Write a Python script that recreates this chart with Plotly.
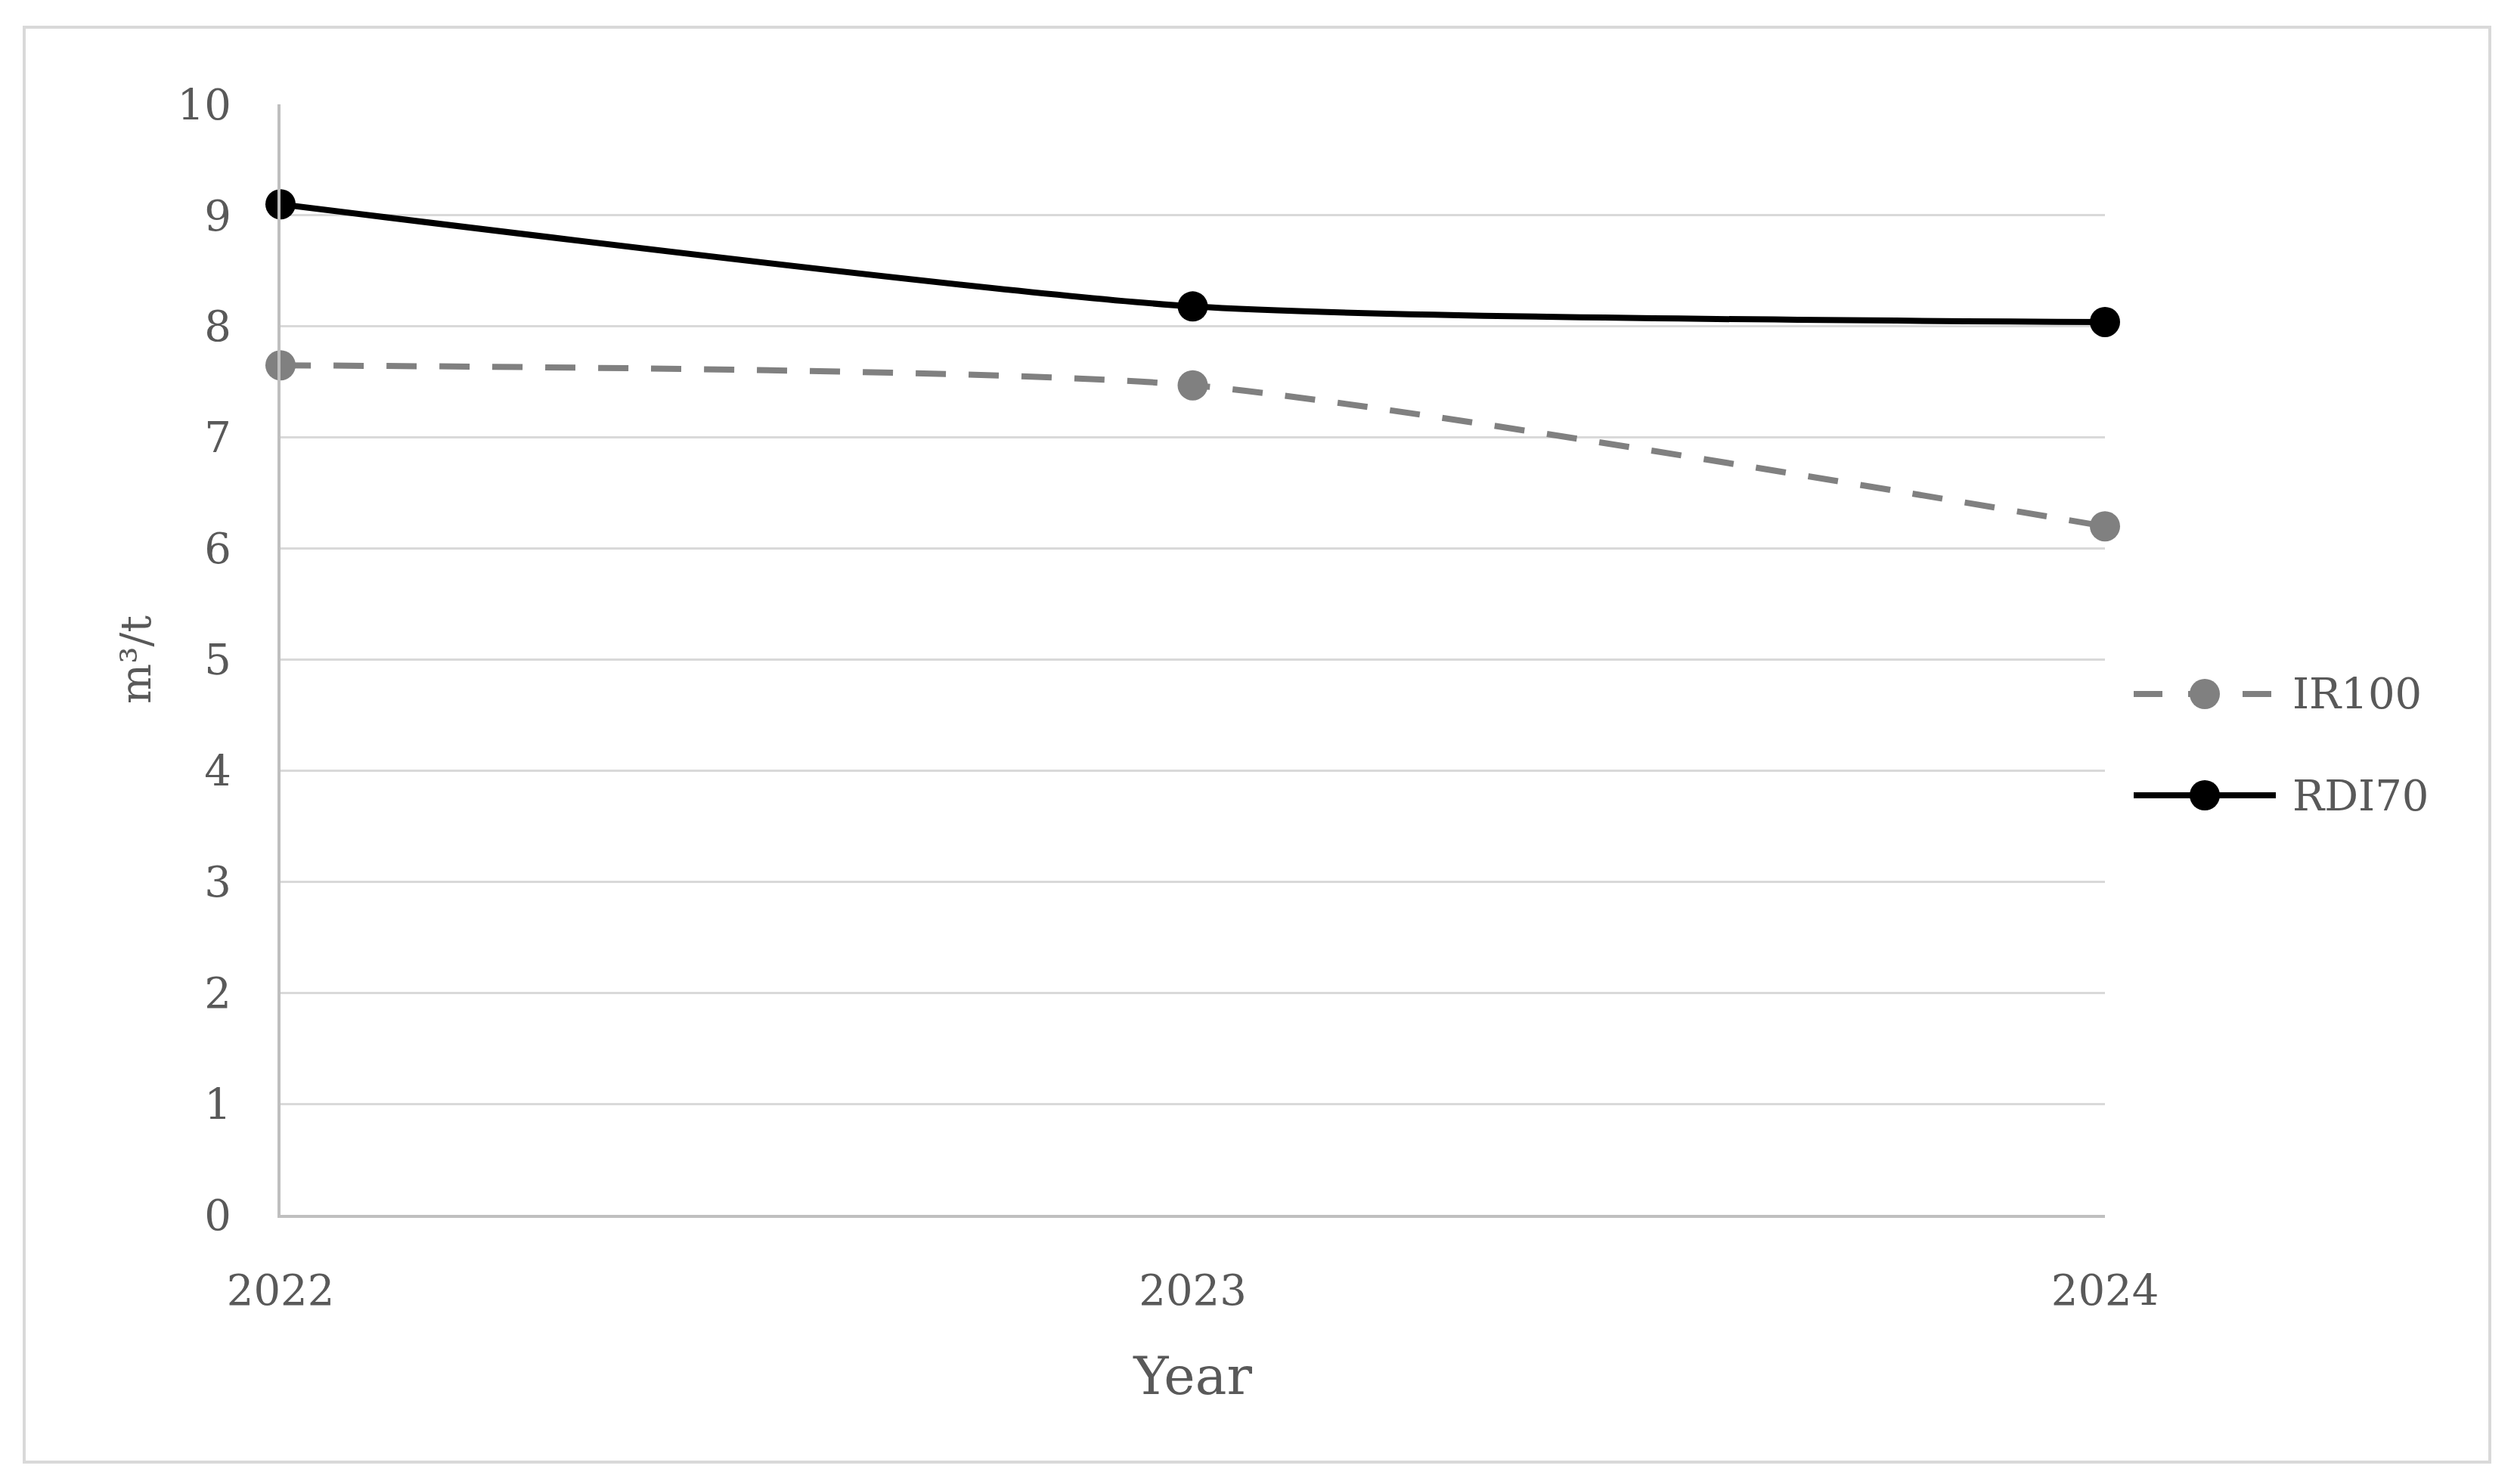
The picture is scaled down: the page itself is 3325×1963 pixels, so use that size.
import plotly.graph_objects as go

years = [2022, 2023, 2024]
ir100 = [7.65, 7.47, 6.2]
rdi70 = [9.1, 8.18, 8.04]
y_ticks = list(range(0, 11))
series_names = ["IR100", "RDI70"]
series_colors = ["#808080", "#000000"]
series_dash = ["40px,30px", "solid"]

OFF = 8  # body margin of page
W, H = 3325, 1963
L, T = 371 - OFF, 138 - OFF
pw, ph = 2413, 1469
R, B = W - L - pw, H - T - ph

FONT = "Palatino Linotype, Book Antiqua, Palatino, DejaVu Serif, serif"
TXT = "#595959"
MS = 40
LW = 8

fig = go.Figure()
for name, vals, col, dash in zip(series_names, [ir100, rdi70], series_colors, series_dash):
    fig.add_trace(go.Scatter(
        x=years, y=vals, name=name, mode="lines+markers",
        line=dict(color=col, width=LW, dash=dash, shape="spline", smoothing=0.6),
        marker=dict(color=col, size=MS), cliponaxis=False, showlegend=False))


def px_x(p):
    return (p - OFF - L) / pw


def px_y(p):
    return (H + OFF - B - p) / ph


# outer chart border
fig.add_shape(type="rect", xref="paper", yref="paper",
              x0=px_x(32), x1=px_x(3293), y0=px_y(1934), y1=px_y(36),
              line=dict(color="#d9d9d9", width=4), fillcolor="rgba(0,0,0,0)", layer="below")

# legend drawn manually (larger markers than plotly legend allows)
leg_rows = [918, 1052]
for name, col, dash, ry in zip(series_names, series_colors, series_dash, leg_rows):
    fig.add_shape(type="line", xref="paper", yref="paper",
                  x0=px_x(2822), x1=px_x(3010), y0=px_y(ry), y1=px_y(ry),
                  line=dict(color=col, width=LW, dash="38px,34px" if dash != "solid" else "solid"))
    fig.add_shape(type="circle", xref="paper", yref="paper",
                  xsizemode="pixel", ysizemode="pixel",
                  xanchor=px_x(2916), yanchor=px_y(ry),
                  x0=-MS / 2, x1=MS / 2, y0=-MS / 2, y1=MS / 2,
                  line=dict(color=col, width=0), fillcolor=col)
    fig.add_annotation(xref="paper", yref="paper", x=px_x(3030), y=px_y(ry),
                       xanchor="left", yanchor="middle", showarrow=False,
                       text=name, font=dict(size=56, color=TXT, family=FONT))

fig.update_layout(
    width=W, height=H, margin=dict(l=L, r=R, t=T, b=B),
    paper_bgcolor="white", plot_bgcolor="white",
    font=dict(family=FONT, color=TXT, size=56),
    showlegend=False,
    xaxis=dict(range=[2022, 2024], tickvals=years, ticktext=[str(y) for y in years],
               showgrid=False, showline=True, linecolor="#bfbfbf", linewidth=4,
               ticks="", ticklabelstandoff=48, zeroline=False,
               title=dict(text="Year", font=dict(size=70, color=TXT), standoff=58)),
    yaxis=dict(range=[0, 10], tickvals=y_ticks, showgrid=True, gridcolor="#d9d9d9", gridwidth=3,
               showline=True, linecolor="#bfbfbf", linewidth=4, ticks="", zeroline=False,
               ticklabelstandoff=50,
               title=dict(text="m³/t", font=dict(size=56, color=TXT), standoff=18)),
)
fig.write_html("out.html")
